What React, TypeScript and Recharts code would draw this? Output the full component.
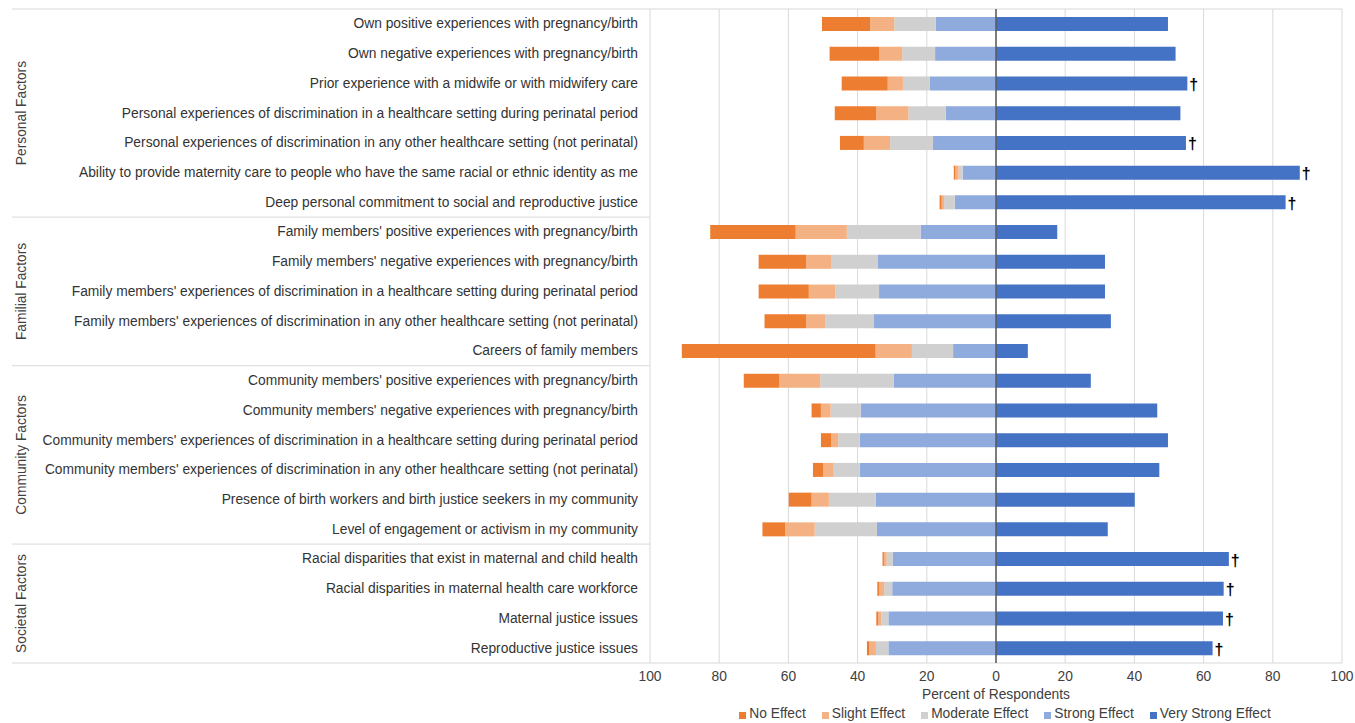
import React from "react";
import {
  BarChart,
  Bar,
  XAxis,
  YAxis,
  CartesianGrid,
  Legend,
  LabelList,
  ReferenceLine,
} from "recharts";

const FONT = "'Liberation Sans', Arial, sans-serif";
const W = 1355;
const H = 723;
const LABEL_W = 650;

const categories = [
  "Own positive experiences with pregnancy/birth",
  "Own negative experiences with pregnancy/birth",
  "Prior experience with a midwife or with midwifery care",
  "Personal experiences of discrimination in a healthcare setting during perinatal period",
  "Personal experiences of discrimination in any other healthcare setting (not perinatal)",
  "Ability to provide maternity care to people who have the same racial or ethnic identity as me",
  "Deep personal commitment to social and reproductive justice",
  "Family members' positive experiences with pregnancy/birth",
  "Family members' negative experiences with pregnancy/birth",
  "Family members' experiences of discrimination in a healthcare setting during perinatal period",
  "Family members' experiences of discrimination in any other healthcare setting (not perinatal)",
  "Careers of family members",
  "Community members' positive experiences with pregnancy/birth",
  "Community members' negative experiences with pregnancy/birth",
  "Community members' experiences of discrimination in a healthcare setting during perinatal period",
  "Community members' experiences of discrimination in any other healthcare setting (not perinatal)",
  "Presence of birth workers and birth justice seekers in my community",
  "Level of engagement or activism in my community",
  "Racial disparities that exist in maternal and child health",
  "Racial disparities in maternal health care workforce",
  "Maternal justice issues",
  "Reproductive justice issues",
];

const groupNames = ["Personal Factors", "Familial Factors", "Community Factors", "Societal Factors"];
const groupSizes = [7, 5, 6, 4];

const noEffect = [13.9, 14.3, 13.3, 12.0, 6.9, 0.5, 0.6, 24.7, 13.7, 14.5, 12.0, 56.0, 10.3, 2.7, 3.0, 3.0, 6.6, 6.6, 0.4, 0.5, 0.5, 0.7];
const slightEffect = [7.0, 6.7, 4.4, 9.3, 7.6, 0.9, 0.7, 14.8, 7.4, 7.7, 5.5, 10.5, 11.8, 2.8, 2.0, 3.0, 5.0, 8.5, 0.8, 1.5, 1.0, 1.9];
const moderateEffect = [12.0, 9.5, 7.8, 10.8, 12.4, 1.2, 3.1, 21.3, 13.4, 12.6, 14.0, 11.9, 21.3, 8.7, 6.2, 7.5, 13.5, 18.0, 1.8, 2.3, 2.0, 3.6];
const strongEffect = [17.4, 17.6, 19.1, 14.5, 18.2, 9.6, 11.9, 21.8, 34.1, 33.8, 35.4, 12.4, 29.5, 39.1, 39.4, 39.4, 34.8, 34.4, 29.8, 30.0, 31.1, 31.1];
const veryStrongEffect = [49.7, 51.9, 55.3, 53.3, 54.9, 87.8, 83.7, 17.7, 31.5, 31.5, 33.2, 9.2, 27.4, 46.6, 49.7, 47.2, 40.1, 32.3, 67.3, 65.8, 65.6, 62.6];
// rows marked with a dagger
const daggerRows = [2, 4, 5, 6, 18, 19, 20, 21];

const xTicks = [-100, -80, -60, -40, -20, 0, 20, 40, 60, 80, 100];

const series = [
  { key: "noEffect", name: "No Effect", color: "#ED7D31" },
  { key: "slight", name: "Slight Effect", color: "#F4B183" },
  { key: "moderate", name: "Moderate Effect", color: "#D0D0D0" },
  { key: "strong", name: "Strong Effect", color: "#8FAADC" },
  { key: "veryStrong", name: "Very Strong Effect", color: "#4472C4" },
];

// left-side values are negative so they stack away from zero
const data = categories.map((label, i) => ({
  label,
  strong: -strongEffect[i],
  moderate: -moderateEffect[i],
  slight: -slightEffect[i],
  noEffect: -noEffect[i],
  veryStrong: veryStrongEffect[i],
  mark: daggerRows.includes(i) ? "\u2020" : "",
}));

// first row index of each group
const groupStarts = groupSizes.map((_, g) => groupSizes.slice(0, g).reduce((a, b) => a + b, 0));

const CategoryTick = (props: any) => {
  const { x, y, payload, index } = props;
  const half = payload.offset || 654 / categories.length / 2;
  const g = groupStarts.indexOf(index);
  const last = index === categories.length - 1;
  const gy = y - half + (g >= 0 ? groupSizes[g] : 0) * half;
  return (
    <g>
      {g >= 0 && (
        <line x1={12} x2={LABEL_W} y1={y - half} y2={y - half} stroke="#D9D9D9" strokeWidth={1} />
      )}
      {last && (
        <line x1={12} x2={LABEL_W} y1={y + half} y2={y + half} stroke="#D9D9D9" strokeWidth={1} />
      )}
      {g >= 0 && (
        <text
          x={22}
          y={gy}
          transform={`rotate(-90 22 ${gy})`}
          textAnchor="middle"
          dominantBaseline="central"
          fontSize={13.8}
          fill="#404040"
          fontFamily={FONT}
        >
          {groupNames[g]}
        </text>
      )}
      <text
        x={x}
        y={y}
        textAnchor="end"
        dominantBaseline="central"
        fontSize={13.8}
        fill="#333333"
        fontFamily={FONT}
      >
        {payload.value}
      </text>
    </g>
  );
};

const Dagger = (props: any) => {
  const { x, y, width, height, value } = props;
  if (!value) return null;
  return (
    <text
      x={x + width + 2}
      y={y + height / 2 + 1}
      dominantBaseline="central"
      fontSize={16}
      fontWeight="bold"
      fill="#000"
      fontFamily={FONT}
    >
      {value}
    </text>
  );
};

const LegendContent = () => (
  <div
    style={{
      display: "flex",
      justifyContent: "center",
      gap: 16,
      fontSize: 13.8,
      color: "#404040",
      fontFamily: FONT,
      lineHeight: "18px",
    }}
  >
    {series.map((s) => (
      <span key={s.key} style={{ display: "flex", alignItems: "center" }}>
        <span style={{ width: 7, height: 7, background: s.color, marginRight: 3, marginTop: 3 }} />
        {s.name}
      </span>
    ))}
  </div>
);

export default function App() {
  return (
    <div style={{ position: "absolute", left: 0, top: 0, background: "#fff" }}>
      <BarChart
        width={W}
        height={H}
        data={data}
        layout="vertical"
        stackOffset="sign"
        barSize={14}
        margin={{ top: 9, right: 13, bottom: 0, left: 0 }}
      >
        <CartesianGrid
          stroke="#D9D9D9"
          horizontalCoordinatesGenerator={({ offset }: any) => [offset.top, offset.top + offset.height]}
        />
        <XAxis
          type="number"
          domain={[-100, 100]}
          ticks={xTicks}
          tickFormatter={(v) => String(Math.abs(v))}
          axisLine={false}
          tickLine={false}
          height={40}
          tick={{ fill: "#404040", fontSize: 13.8, fontFamily: FONT }}
          label={{
            value: "Percent of Respondents",
            position: "insideBottom",
            offset: 4,
            fill: "#404040",
            fontSize: 13.8,
            fontFamily: FONT,
          }}
        />
        <YAxis
          type="category"
          dataKey="label"
          width={LABEL_W}
          axisLine={false}
          tickLine={false}
          tickSize={10}
          tickMargin={2}
          interval={0}
          tick={<CategoryTick />}
        />
        <Legend
          verticalAlign="bottom"
          height={20}
          content={<LegendContent />}
          wrapperStyle={{ left: 650, width: 710, bottom: -2 }}
        />
        <Bar dataKey="strong" stackId="s" fill="#8FAADC" isAnimationActive={false} />
        <Bar dataKey="moderate" stackId="s" fill="#D0D0D0" isAnimationActive={false} />
        <Bar dataKey="slight" stackId="s" fill="#F4B183" isAnimationActive={false} />
        <Bar dataKey="noEffect" stackId="s" fill="#ED7D31" isAnimationActive={false} />
        <Bar dataKey="veryStrong" stackId="s" fill="#4472C4" isAnimationActive={false}>
          <LabelList dataKey="mark" content={<Dagger />} />
        </Bar>
        <ReferenceLine x={0} stroke="#595959" strokeWidth={1.5} />
      </BarChart>
    </div>
  );
}
